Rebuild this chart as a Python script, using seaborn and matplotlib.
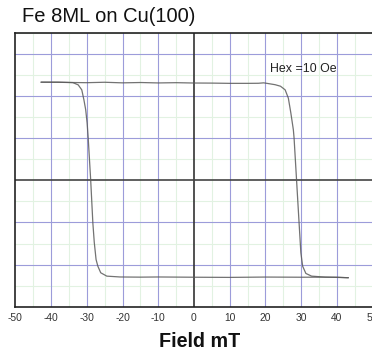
import matplotlib
matplotlib.use("Agg")
import matplotlib.pyplot as plt
import seaborn as sns
import pandas as pd

# Hysteresis loop (Field in mT, Kerr signal in arbitrary units)
sweep_up_field = [-42.8, -38.0, -34.0, -30.0, -25.0, -20.0, -15.0, -10.0, -5.0, 0.0, 5.0,
                  10.0, 15.0, 18.0, 19.5, 21.0, 22.7, 24.2, 25.5, 26.4, 27.1, 27.8, 28.0,
                  28.7, 29.4, 29.9, 30.4, 31.3, 32.9, 36.7, 40.0, 43.2]
sweep_up_signal = [1.166, 1.166, 1.162, 1.160, 1.165, 1.158, 1.162, 1.157, 1.160, 1.156, 1.155,
                   1.152, 1.152, 1.153, 1.158, 1.148, 1.136, 1.118, 1.075, 0.976, 0.799, 0.600,
                   0.502, 0.000, -0.505, -0.860, -1.019, -1.105, -1.137, -1.149, -1.152, -1.156]

sweep_down_field = [43.2, 40.0, 36.7, 30.0, 20.0, 10.0, 0.0, -10.0, -15.0, -20.7, -24.4,
                    -26.1, -26.9, -27.4, -27.9, -28.3, -28.9, -29.6, -29.9, -30.3, -30.8,
                    -31.4, -32.4, -33.9, -38.0, -42.8]
sweep_down_signal = [-1.156, -1.150, -1.149, -1.150, -1.148, -1.152, -1.150, -1.147, -1.149,
                     -1.147, -1.137, -1.097, -1.019, -0.940, -0.738, -0.505, 0.000, 0.502,
                     0.680, 0.838, 0.956, 1.075, 1.134, 1.161, 1.165, 1.166]

x_ticks = [-50, -40, -30, -20, -10, 0, 10, 20, 30, 40, 50]
title_text = "Fe 8ML on Cu(100)"
xlabel_text = "Field mT"
note_text = "Hex =10 Oe"

sns.set_style("white")
plt.rcParams["font.family"] = ["Liberation Sans", "DejaVu Sans"]

fig = plt.figure(figsize=(3.72, 3.51), dpi=100)
ax = fig.add_axes([0.0411, 0.1262, 0.9608, 0.7798])

# minor (light green) grid
for xv in range(-45, 50, 10):
    ax.axvline(xv, color="#e2f2e2", lw=0.8, zorder=0)
for yv in [-1.25, -0.75, -0.25, 0.25, 0.75, 1.25, 1.75]:
    ax.axhline(yv, color="#e2f2e2", lw=0.8, zorder=0)
# major (blue) grid
for xv in x_ticks:
    if xv not in (0, -50, 50):
        ax.axvline(xv, color="#9c9cda", lw=0.8, zorder=1)
for yv in [-1.0, -0.5, 0.5, 1.0, 1.5]:
    ax.axhline(yv, color="#9c9cda", lw=0.8, zorder=1)
ax.axvline(0, color="#333333", lw=1.2, zorder=2)
ax.axhline(0, color="#444444", lw=1.2, zorder=2)

up = pd.DataFrame({"field": sweep_up_field, "signal": sweep_up_signal})
down = pd.DataFrame({"field": sweep_down_field, "signal": sweep_down_signal})
sns.lineplot(data=up, x="field", y="signal", sort=False, estimator=None, ax=ax,
             color="#5a5a5a", lw=0.9, alpha=0.85, zorder=3)
sns.lineplot(data=down, x="field", y="signal", sort=False, estimator=None, ax=ax,
             color="#5a5a5a", lw=0.9, alpha=0.85, zorder=3)

ax.text(21.3, 1.32, note_text, fontsize=8.9, ha="left", va="center", color="#222222")

ax.set_xlim(-50, 50)
ax.set_ylim(-1.5, 1.75)
ax.set_xticks(x_ticks)
ax.set_xticklabels([str(v) for v in x_ticks])
ax.set_yticks([])
ax.tick_params(axis="x", length=0, pad=4.5, labelsize=7.4, labelcolor="#333333")
ax.set_xlabel("")
ax.set_ylabel("")
for side in ("left", "bottom", "top"):
    ax.spines[side].set_color("#222222")
    ax.spines[side].set_linewidth(1.2)
ax.spines["right"].set_visible(False)

fig.text(22 / 372, 1 - 17 / 351, title_text, fontsize=14.5, ha="left", va="center", color="#111111")
fig.text(199.5 / 372, 1 - 341.7 / 351, xlabel_text, fontsize=14.2, fontweight="bold",
         ha="center", va="center", color="#111111")

fig.savefig("out.png", dpi=100)
